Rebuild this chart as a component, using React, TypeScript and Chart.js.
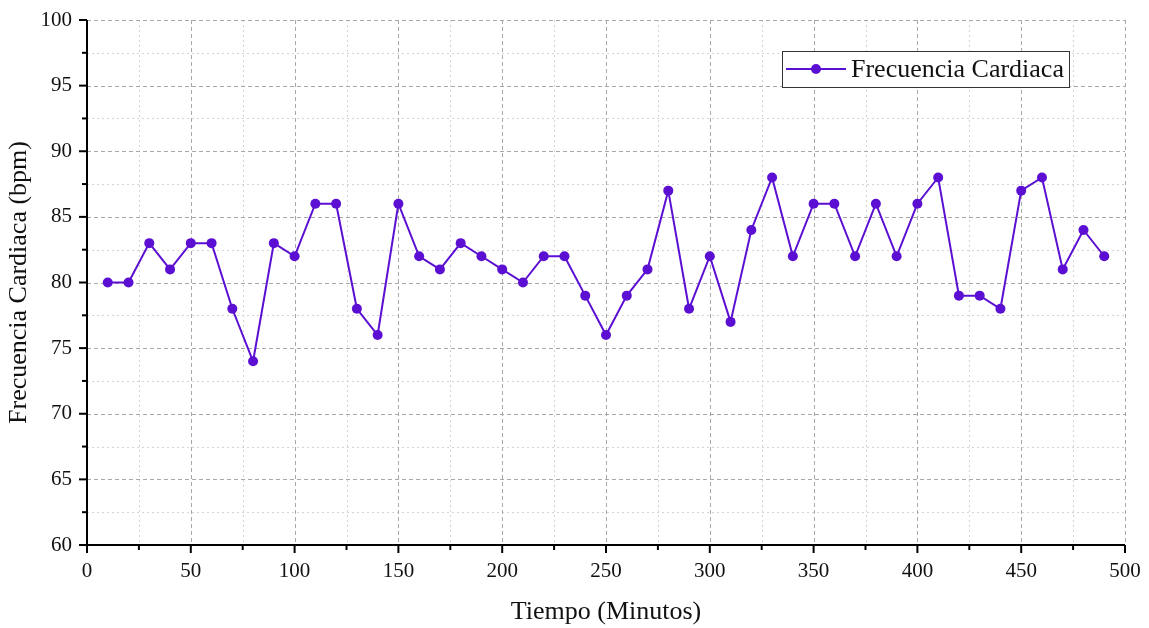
import React, { useEffect, useRef } from "react";
import { Chart, registerables } from "chart.js";

Chart.register(...registerables);

const minutes = [10,20,30,40,50,60,70,80,90,100,110,120,130,140,150,160,170,180,190,200,210,220,230,240,250,260,270,280,290,300,310,320,330,340,350,360,370,380,390,400,410,420,430,440,450,460,470,480,490];
const heartRate = [80,80,83,81,83,83,78,74,83,82,86,86,78,76,86,82,81,83,82,81,80,82,82,79,76,79,81,87,78,82,77,84,88,82,86,86,82,86,82,86,88,79,79,78,87,88,81,84,82];
const seriesName = "Frecuencia Cardiaca";
const xTitle = "Tiempo (Minutos)";
const yTitle = "Frecuencia Cardiaca (bpm)";
const xMin = 0, xMax = 500, xMajor = 50, xMinor = 25;
const yMin = 60, yMax = 100, yMajor = 5, yMinor = 2.5;

const COLOR = "#5B0FD2";
const FONT = "'Liberation Serif', 'Times New Roman', serif";

const gridPlugin = {
  id: "customGrid",
  beforeDatasetsDraw(chart: any) {
    const { ctx, chartArea: a, scales } = chart;
    const xs = scales.x, ys = scales.y;
    ctx.save();
    ctx.lineWidth = 1;
    ctx.strokeStyle = "#d4d4d4";
    ctx.setLineDash([2, 3]);
    for (let v = xMin + xMinor; v < xMax; v += xMajor) {
      const p = Math.round(xs.getPixelForValue(v)) + 0.5;
      ctx.beginPath(); ctx.moveTo(p, a.top); ctx.lineTo(p, a.bottom); ctx.stroke();
    }
    for (let v = yMin + yMinor; v < yMax; v += yMajor) {
      const p = Math.round(ys.getPixelForValue(v)) + 0.5;
      ctx.beginPath(); ctx.moveTo(a.left, p); ctx.lineTo(a.right, p); ctx.stroke();
    }
    ctx.strokeStyle = "#a8a8a8";
    ctx.setLineDash([4, 3]);
    for (let v = xMin + xMajor; v <= xMax; v += xMajor) {
      const p = Math.round(xs.getPixelForValue(v)) + 0.5;
      ctx.beginPath(); ctx.moveTo(p, a.top); ctx.lineTo(p, a.bottom); ctx.stroke();
    }
    for (let v = yMin + yMajor; v <= yMax; v += yMajor) {
      const p = Math.round(ys.getPixelForValue(v)) + 0.5;
      ctx.beginPath(); ctx.moveTo(a.left, p); ctx.lineTo(a.right, p); ctx.stroke();
    }
    ctx.restore();
  },
  afterDraw(chart: any) {
    const { ctx, chartArea: a, scales } = chart;
    const xs = scales.x, ys = scales.y;
    ctx.save();
    ctx.strokeStyle = "#000";
    ctx.lineWidth = 2;
    ctx.setLineDash([]);
    ctx.beginPath();
    ctx.moveTo(a.left, a.top); ctx.lineTo(a.left, a.bottom); ctx.lineTo(a.right, a.bottom);
    ctx.stroke();
    for (let v = xMin; v <= xMax + 0.001; v += xMinor) {
      const p = xs.getPixelForValue(v);
      const len = (v % xMajor === 0) ? 8 : 5;
      ctx.beginPath(); ctx.moveTo(p, a.bottom); ctx.lineTo(p, a.bottom + len); ctx.stroke();
    }
    for (let v = yMin; v <= yMax + 0.001; v += yMinor) {
      const p = ys.getPixelForValue(v);
      const len = (Math.abs(v % yMajor) < 0.001) ? 8 : 5;
      ctx.beginPath(); ctx.moveTo(a.left, p); ctx.lineTo(a.left - len, p); ctx.stroke();
    }
    // legend
    const lx = 782, ly = 51, lw = 287, lh = 36;
    ctx.fillStyle = "#fff";
    ctx.fillRect(lx, ly, lw, lh);
    ctx.lineWidth = 1;
    ctx.strokeStyle = "#333";
    ctx.strokeRect(lx + 0.5, ly + 0.5, lw, lh);
    const cy = ly + lh / 2;
    ctx.strokeStyle = COLOR;
    ctx.lineWidth = 2;
    ctx.beginPath(); ctx.moveTo(lx + 4, cy); ctx.lineTo(lx + 64, cy); ctx.stroke();
    ctx.fillStyle = COLOR;
    ctx.beginPath(); ctx.arc(lx + 34, cy, 5, 0, Math.PI * 2); ctx.fill();
    ctx.fillStyle = "#111";
    ctx.font = `26px ${FONT}`;
    ctx.textBaseline = "middle";
    ctx.textAlign = "left";
    ctx.fillText(seriesName, lx + 69, cy + 1);
    ctx.restore();
  },
};

function zeroPad(scale: any) {
  scale.paddingTop = 0;
  scale.paddingBottom = 0;
  scale.paddingLeft = 0;
  scale.paddingRight = 0;
}

export default function App() {
  const ref = useRef<HTMLCanvasElement>(null);
  useEffect(() => {
    const chart = new Chart(ref.current!, {
      type: "line",
      data: {
        datasets: [
          {
            label: seriesName,
            data: minutes.map((m, i) => ({ x: m, y: heartRate[i] })),
            borderColor: COLOR,
            backgroundColor: COLOR,
            borderWidth: 2,
            pointRadius: 5,
            pointBackgroundColor: COLOR,
            pointBorderColor: COLOR,
            pointBorderWidth: 0,
            tension: 0,
          },
        ],
      },
      options: {
        responsive: false,
        animation: false,
        layout: { padding: { top: 20, right: 24, left: 0, bottom: 0 } },
        plugins: { legend: { display: false }, tooltip: { enabled: false } },
        scales: {
          x: {
            type: "linear",
            min: xMin,
            max: xMax,
            grid: { display: false, drawTicks: false },
            border: { display: false },
            ticks: {
              stepSize: xMajor,
              padding: 14,
              color: "#111",
              font: { family: FONT, size: 21 },
              maxRotation: 0,
            },
            title: {
              display: true,
              text: xTitle,
              color: "#111",
              font: { family: FONT, size: 26 },
              padding: { top: 6, bottom: 0 },
            },
            afterFit(scale: any) { scale.height = 83; zeroPad(scale); },
          },
          y: {
            type: "linear",
            min: yMin,
            max: yMax,
            grid: { display: false, drawTicks: false },
            border: { display: false },
            ticks: {
              stepSize: yMajor,
              padding: 15,
              color: "#111",
              font: { family: FONT, size: 21 },
            },
            title: {
              display: true,
              text: yTitle,
              color: "#111",
              font: { family: FONT, size: 26 },
              padding: { top: 4, bottom: 4 },
            },
            afterFit(scale: any) { scale.width = 87; zeroPad(scale); },
          },
        },
      },
      plugins: [gridPlugin],
    });
    return () => chart.destroy();
  }, []);
  return (
    <canvas
      ref={ref}
      width={1149}
      height={628}
      style={{ position: "fixed", left: 0, top: 0, width: 1149, height: 628, background: "#fff" }}
    />
  );
}
